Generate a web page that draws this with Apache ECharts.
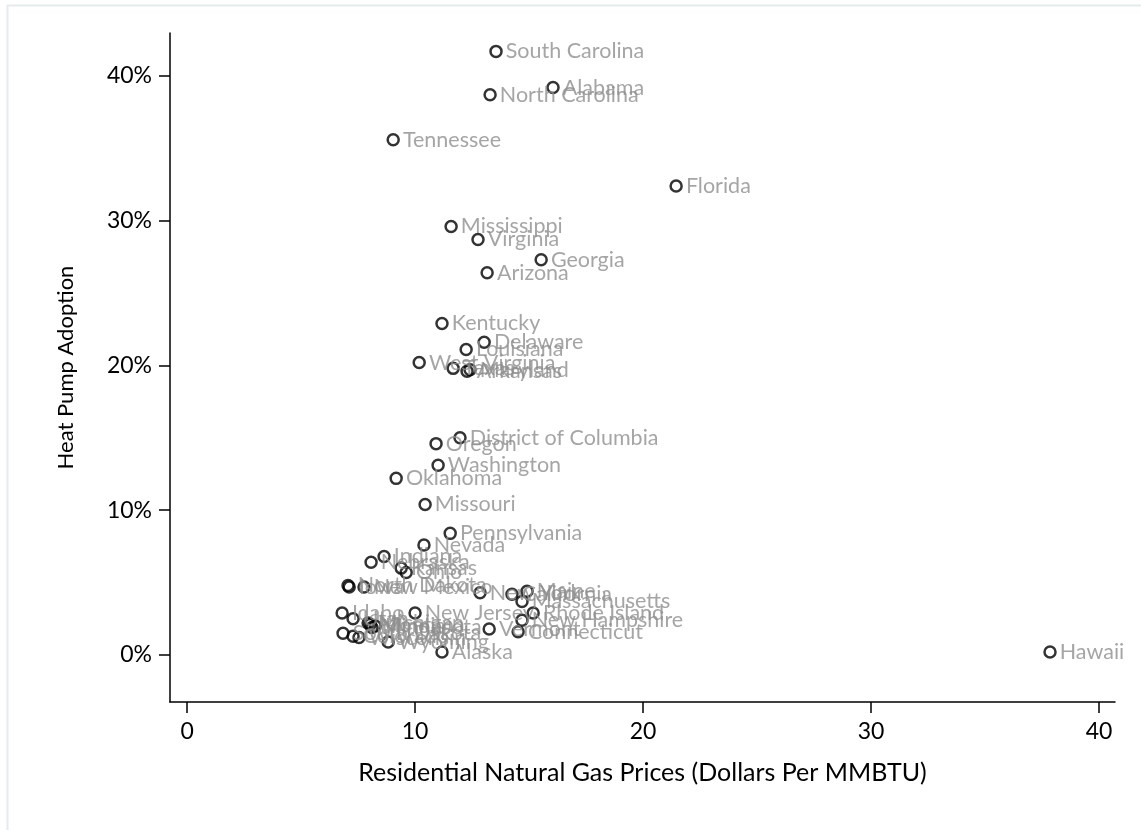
<!DOCTYPE html>
<html>
<head>
<meta charset="utf-8">
<script src="https://cdn.jsdelivr.net/npm/echarts@6/dist/echarts.min.js"></script>
<style>
  html, body { margin: 0; padding: 0; background: #ffffff; }
  #chart { width: 1141px; height: 830px; }
</style>
</head>
<body>
<div id="chart"></div>
<script>
const states = [
  'South Carolina','Alabama','North Carolina','Tennessee','Florida','Mississippi','Virginia','Georgia','Arizona',
  'Kentucky','Delaware','Louisiana','West Virginia','Texas','Arkansas','Maryland',
  'District of Columbia','Oregon','Washington','Oklahoma','Missouri','Pennsylvania','Nevada',
  'Indiana','Nebraska','Kansas','Ohio',
  'North Dakota','Iowa','New Mexico','New York','California','Maine','Massachusetts','Rhode Island','New Hampshire','Vermont','Connecticut',
  'Idaho','Utah','Michigan','Montana','Minnesota','Illinois','New Jersey','South Dakota','Colorado','Wisconsin','Wyoming','Alaska','Hawaii'
];
const gasPrice = [
  13.55, 16.05, 13.29, 9.04, 21.45, 11.58, 12.76, 15.53, 13.16,
  11.18, 13.03, 12.24, 10.18, 11.67, 12.28, 12.41,
  11.97, 10.92, 11.01, 9.17, 10.44, 11.54, 10.39,
  8.64, 8.07, 9.39, 9.61,
  7.06, 7.11, 7.76, 12.85, 14.25, 14.91, 14.69, 15.18, 14.69, 13.25, 14.52,
  6.80, 7.28, 7.94, 8.03, 8.11, 8.25, 10.00, 6.84, 7.28, 7.54, 8.82, 11.18, 37.85
];
const heatPump = [
  41.7, 39.2, 38.7, 35.6, 32.4, 29.6, 28.7, 27.3, 26.4,
  22.9, 21.6, 21.1, 20.2, 19.8, 19.6, 19.7,
  15.0, 14.6, 13.1, 12.2, 10.4, 8.4, 7.6,
  6.8, 6.4, 6.0, 5.7,
  4.8, 4.7, 4.7, 4.3, 4.2, 4.4, 3.7, 2.9, 2.4, 1.8, 1.6,
  2.9, 2.5, 2.2, 2.1, 1.9, 2.0, 2.9, 1.5, 1.3, 1.2, 0.9, 0.2, 0.2
];
const xTicks = [0, 10, 20, 30, 40];
const yTicks = [0, 10, 20, 30, 40];
const xTitle = 'Residential Natural Gas Prices (Dollars Per MMBTU)';
const yTitle = 'Heat Pump Adoption';

const FONT = 'Lato, "DejaVu Sans", sans-serif';
const chart = echarts.init(document.getElementById('chart'), null, { renderer: 'canvas' });

const data = states.map((s, i) => ({ name: s, value: [gasPrice[i], heatPump[i]] }));

chart.setOption({
  animation: false,
  backgroundColor: '#ffffff',
  graphic: [{
    type: 'rect',
    shape: { x: 7.5, y: 5.5, width: 1200, height: 900 },
    style: { fill: 'none', stroke: '#e4eced', lineWidth: 2 },
    silent: true, z: -10
  }],
  grid: { left: 170, right: 26, top: 33, bottom: 128, containLabel: false },
  xAxis: {
    type: 'value',
    min: -0.75, max: 40.7,
    splitLine: { show: false },
    axisLine: { show: true, onZero: false, lineStyle: { color: '#000', width: 1.5 } },
    axisTick: { show: true, customValues: xTicks, length: 11, lineStyle: { color: '#000', width: 1.5 } },
    axisLabel: { customValues: xTicks, color: '#000', fontFamily: FONT, fontSize: 23, margin: 18 },
    name: xTitle,
    nameLocation: 'middle',
    nameGap: 58,
    nameTextStyle: { color: '#000', fontFamily: FONT, fontSize: 25 }
  },
  yAxis: {
    type: 'value',
    min: -3.25, max: 42.97,
    splitLine: { show: false },
    axisLine: { show: true, onZero: false, lineStyle: { color: '#000', width: 1.5 } },
    axisTick: { show: true, customValues: yTicks, length: 11, lineStyle: { color: '#000', width: 1.5 } },
    axisLabel: { customValues: yTicks, color: '#000', fontFamily: FONT, fontSize: 23, margin: 18,
      formatter: v => v + '%' },
    name: yTitle,
    nameLocation: 'middle',
    nameRotate: 90,
    nameGap: 93,
    nameTextStyle: { color: '#000', fontFamily: FONT, fontSize: 22 }
  },
  series: [{
    type: 'scatter',
    data: data,
    symbol: 'circle',
    symbolSize: 11,
    itemStyle: { color: 'rgba(0,0,0,0)', borderColor: '#000', borderWidth: 2.5 },
    label: {
      show: true,
      position: 'right',
      distance: 3,
      formatter: '{b}',
      color: '#8e8e8e',
      fontFamily: FONT,
      fontSize: 21.5
    },
    emphasis: { disabled: true }
  }]
});
</script>
</body>
</html>
